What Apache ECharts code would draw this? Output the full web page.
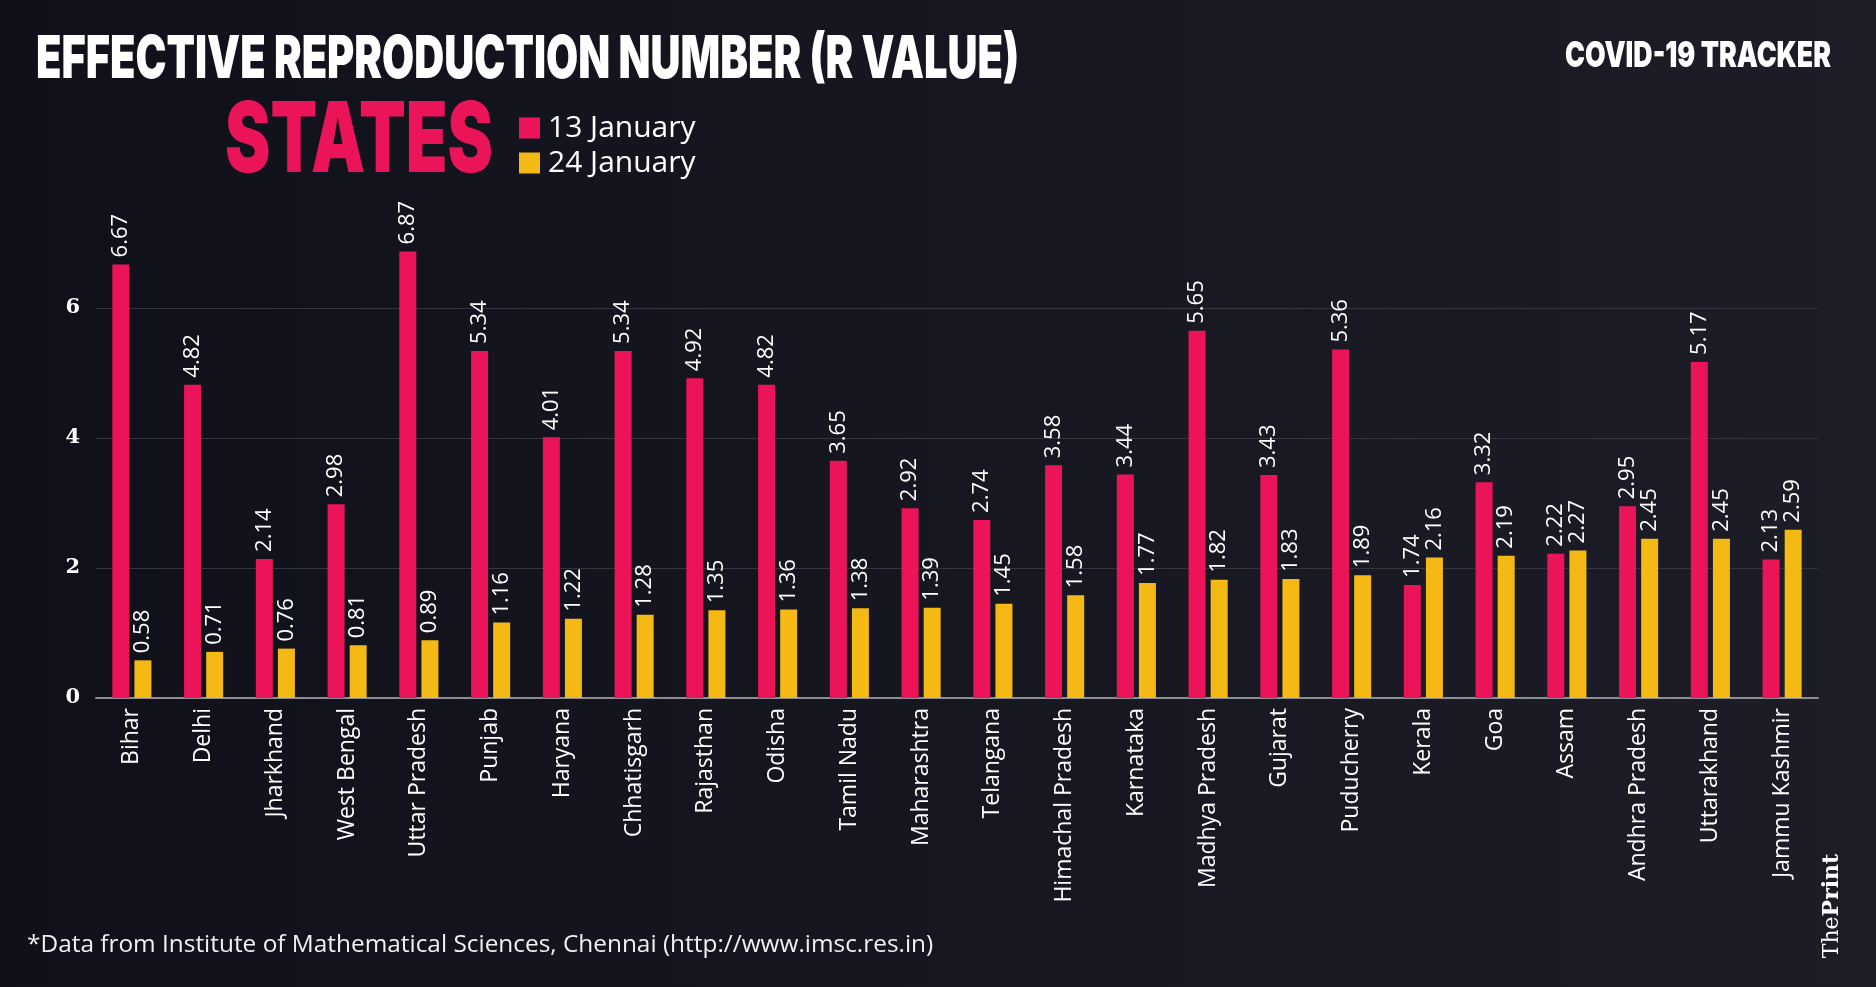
<!DOCTYPE html>
<html>
<head>
<meta charset="utf-8">
<script src="https://cdn.jsdelivr.net/npm/echarts@6/dist/echarts.min.js"></script>
<style>
html,body{margin:0;padding:0;background:#14151e;}
#chart{width:1876px;height:987px;}
</style>
</head>
<body>
<div id="chart"></div>
<script>
const categories = ['Bihar','Delhi','Jharkhand','West Bengal','Uttar Pradesh','Punjab','Haryana','Chhatisgarh','Rajasthan','Odisha','Tamil Nadu','Maharashtra','Telangana','Himachal Pradesh','Karnataka','Madhya Pradesh','Gujarat','Puducherry','Kerala','Goa','Assam','Andhra Pradesh','Uttarakhand','Jammu Kashmir'];
const jan13 = [6.67,4.82,2.14,2.98,6.87,5.34,4.01,5.34,4.92,4.82,3.65,2.92,2.74,3.58,3.44,5.65,3.43,5.36,1.74,3.32,2.22,2.95,5.17,2.13];
const jan24 = [0.58,0.71,0.76,0.81,0.89,1.16,1.22,1.28,1.35,1.36,1.38,1.39,1.45,1.58,1.77,1.82,1.83,1.89,2.16,2.19,2.27,2.45,2.45,2.59];
const seriesNames = ['13 January','24 January'];
const yTicks = {min:0, max:8, interval:2};
const titleText = 'EFFECTIVE REPRODUCTION NUMBER (R VALUE)';
const subtitleText = 'STATES';
const trackerText = 'COVID-19 TRACKER';
const sourceText = '*Data from Institute of Mathematical Sciences, Chennai (http://www.imsc.res.in)';

const PINK = '#ec1459';
const YELLOW = '#f5b915';

const ctx = document.createElement('canvas').getContext('2d');
function fitText(text, font, targetW){
  ctx.font = font;
  return targetW / ctx.measureText(text).width;
}
const heavy = 'Inter, "DejaVu Sans", sans-serif';
function heavyText(text, x, yMid, size, targetW, color){
  const font = '900 ' + size + 'px ' + heavy;
  return {
    type:'text', x:x, y:yMid, scaleX: fitText(text, font, targetW), scaleY:1,
    style:{text:text, font:font, fill:color, align:'left', verticalAlign:'middle'},
    z:10
  };
}

const chart = echarts.init(document.getElementById('chart'));
const labelCommon = {
  show:true, position:'top', rotate:90, align:'left', verticalAlign:'middle',
  distance:7, color:'#ffffff', fontSize:22, fontFamily:'"Open Sans", sans-serif'
};
chart.setOption({
  backgroundColor: new echarts.graphic.LinearGradient(0,0,1,0,[
    {offset:0,color:'#0f1019'},{offset:1,color:'#1c1d26'}
  ]),
  animation:false,
  grid:{left:96, right:58, top:178, bottom:289, containLabel:false},
  legend:{
    orient:'vertical', left:514, top:108, itemWidth:21, itemHeight:21, itemGap:5,
    icon:'rect', data:seriesNames,
    textStyle:{color:'#ffffff', fontSize:30, lineHeight:26, fontFamily:'"Open Sans", sans-serif', padding:[0,0,0,3]}
  },
  xAxis:{
    type:'category', data:categories,
    axisLine:{show:true, lineStyle:{color:'#8c8c92', width:2}},
    axisTick:{show:false},
    axisLabel:{interval:0, rotate:90, margin:10, color:'#ffffff', fontSize:23, fontFamily:'"Open Sans", sans-serif'}
  },
  yAxis:{
    type:'value', min:yTicks.min, max:yTicks.max, interval:yTicks.interval,
    axisLine:{show:false}, axisTick:{show:false},
    axisLabel:{showMaxLabel:false, margin:16, color:'#ffffff', fontSize:21, fontWeight:'bold', fontFamily:'"DejaVu Serif", serif'},
    splitLine:{show:true, showMaxLine:false, lineStyle:{color:'#34353e', width:1}}
  },
  series:[
    {name:seriesNames[0], type:'bar', data:jan13, barWidth:17, barGap:'30%', itemStyle:{color:PINK}, label:labelCommon},
    {name:seriesNames[1], type:'bar', data:jan24, barWidth:17, barGap:'30%', itemStyle:{color:YELLOW}, label:labelCommon}
  ],
  graphic:[
    heavyText(titleText, 36, 60, 59, 983, '#ffffff'),
    heavyText(subtitleText, 225, 143, 97, 268, PINK),
    heavyText(trackerText, 1565, 56, 36, 266, '#ffffff'),
    {type:'text', x:27, y:945, style:{text:sourceText, font:'24.4px "Open Sans", sans-serif', fill:'#f0f0f0', align:'left', verticalAlign:'middle'}},
    {type:'text', x:1832, y:906, rotation:Math.PI/2,
     style:{text:'{a|The}{b|Print}', align:'center', verticalAlign:'middle',
       rich:{a:{fontSize:22, fontFamily:'"DejaVu Serif", serif', fill:'#ffffff', color:'#ffffff'},
             b:{fontSize:22, fontWeight:'bold', fontFamily:'"DejaVu Serif", serif', fill:'#ffffff', color:'#ffffff'}}}}
  ]
});
</script>
</body>
</html>
